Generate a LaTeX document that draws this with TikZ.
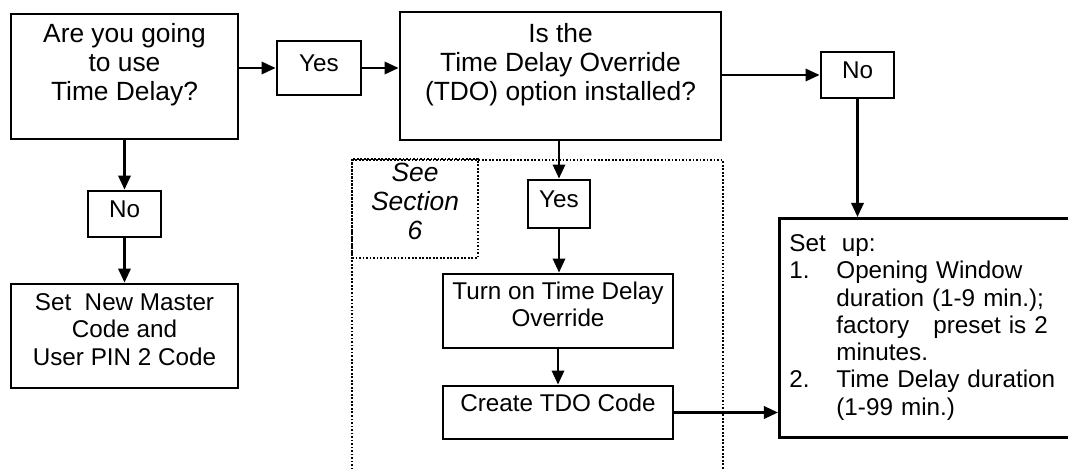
\documentclass[tikz,border=0pt]{standalone}
\usepackage{fontspec}
\setmainfont{Liberation Sans}
\usetikzlibrary{arrows.meta}

\begin{document}
\begin{tikzpicture}[x=0.02cm,y=-0.02cm,
    >={Triangle[length=8pt,width=7pt]},
    box/.style={draw,line width=1.6pt,rectangle,align=center,inner sep=2pt,
      font=\fontsize{13.8}{15.5}\selectfont},
    bigbox/.style={box,font=\fontsize{15}{16.5}\selectfont},
    tag/.style={box,text depth=5pt},
    dotframe/.style={line width=1pt,dash pattern=on 1pt off 1pt},
    flow/.style={->,line width=1.4pt}]
  \useasboundingbox (0,0) rectangle (1068,469);

  \node[bigbox,minimum width=4.54cm,minimum height=2.5cm] (usetd) at (124.5,76.5)
    {Are you going\\to use\\Time Delay?\\~};
  \node[tag,minimum width=1.68cm,minimum height=1.08cm] (yesa) at (319,68) {Yes};
  \node[bigbox,minimum width=6.42cm,minimum height=2.56cm] (tdo) at (560.5,76)
    {Is the\\Time Delay Override\\(TDO) option installed?\\~};
  \node[tag,minimum width=1.46cm,minimum height=0.92cm] (nor) at (857.5,75) {No};

  \node[tag,minimum width=1.46cm,minimum height=0.92cm] (nol) at (124.5,214) {No};
  \node[box,minimum width=4.54cm,minimum height=2.08cm] (master) at (124.5,336)
    {Set\ \ New Master\\Code and\\User PIN 2 Code\\[-8pt]~};

  \draw[dotframe] (352,480) -- (352,160) -- (723,160) -- (723,480);
  \node[box,dotframe,font=\itshape\fontsize{15}{16.5}\selectfont,
    minimum width=2.52cm,minimum height=1.98cm] (seesec) at (415,208.5)
    {See\\Section\\6\\[-8pt]~};

  \node[tag,minimum width=1.24cm,minimum height=0.96cm] (yesb) at (559,204) {Yes};
  \node[box,minimum width=4.6cm,minimum height=1.48cm] (turnon) at (558,311)
    {Turn on Time Delay\\Override\\[-7.5pt]~};
  \node[box,text depth=11pt,minimum width=4.6cm,minimum height=1.06cm] (create)
    at (558,412.5) {Create TDO Code};

  \node[box,anchor=north west,minimum width=6cm,minimum height=4.38cm,
    text width=5.6cm,align=left,inner xsep=0.18cm] (setup) at (778,217)
    {\begin{tabular}{@{}p{0.94cm}@{}l@{}}
      \multicolumn{2}{@{}l}{Set\ \ up:}\\
      1.&Opening Window\\
      &duration (1-9 min.);\\
      &factory\ \ \ preset is 2\\
      &minutes.\\
      2.&Time Delay duration\\
      &(1-99 min.)
    \end{tabular}};

  \draw[flow] (usetd.east |- yesa) -- (yesa);
  \draw[flow] (yesa) -- (yesa -| tdo.west);
  \draw[flow] (tdo.east |- nor) -- (nor);
  \draw[flow] (nor) -- (nor |- setup.north);
  \draw[flow] (usetd) -- (nol);
  \draw[flow] (nol) -- (master);
  \draw[flow] (tdo.south -| yesb) -- (yesb);
  \draw[flow] (yesb) -- (yesb |- turnon.north);
  \draw[flow] (turnon) -- (create);
  \draw[flow] (create.east) -- (create.east -| setup.west);
\end{tikzpicture}
\end{document}
